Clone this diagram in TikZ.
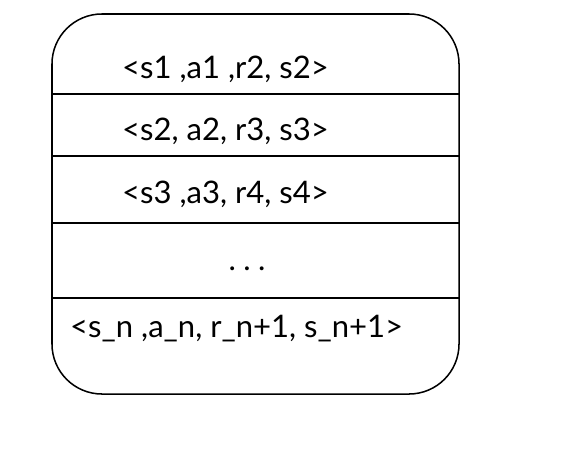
\documentclass[tikz,border=0pt]{standalone}
\usepackage{fontspec}
\setmainfont{Lato}
\tikzset{rowText/.style={anchor=base west, inner sep=0pt, font=\fontsize{26.5}{30}\selectfont}}
\begin{document}
\begin{tikzpicture}[x=0.03cm,y=-0.03cm]
		\useasboundingbox (0,0) rectangle (564,450);
		
		%Outer box
		\node (memoryBox) at (255.5,204) [rectangle, draw, line width=1.3pt, rounded corners=1.5cm, minimum width=12.21cm, minimum height=11.4cm]{};
		
		%Dividing lines
		\foreach \y in {94,156,223,298}
		\draw[line width=1.1pt] (51,\y) -- (460,\y);
		
		%Rows
		\node (firstRow) at (122,78) [rowText]{<s1 ,a1 ,r2, s2>};
		\node (secondRow) at (122,140) [rowText]{<s2, a2, r3, s3>};
		\node (thirdRow) at (122,203) [rowText]{<s3 ,a3, r4, s4>};
		\node (dotsRow) at (247,270) [anchor=base, inner sep=0pt, font=\fontsize{26.5}{30}\selectfont]{.\hspace{0.24em}.\hspace{0.24em}.};
		\node (lastRow) at (70,337) [rowText]{<s\_n ,a\_n, r\_n+1, s\_n+1>};
		
\end{tikzpicture}
\end{document}
